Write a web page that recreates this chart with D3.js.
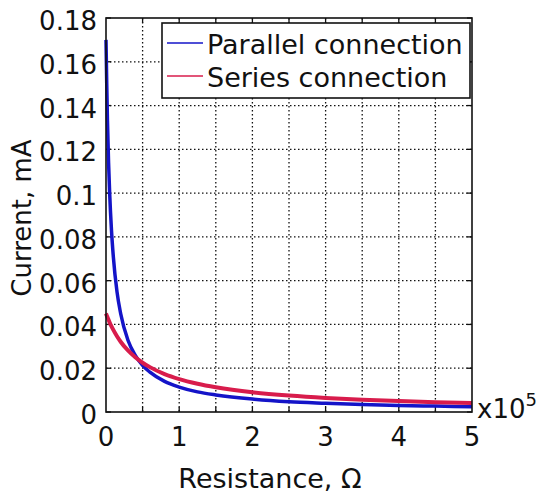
<!DOCTYPE html>
<html>
<head>
<meta charset="utf-8">
<script src="https://cdn.jsdelivr.net/npm/d3@7"></script>
<style>
  body { margin: 0; background: #fff; }
  text { font-family: "DejaVu Sans", Verdana, sans-serif; fill: #111; }
</style>
</head>
<body>
<div id="chart"></div>
<script>
// resistance in units of 1e5 ohm
const resistance = [0, 0.01, 0.02, 0.035, 0.05, 0.075, 0.1, 0.15, 0.2, 0.3, 0.4, 0.5, 0.6, 0.8, 1, 1.25, 1.5, 2, 2.5, 3, 3.5, 4, 4.5, 5];
// current, mA
const parallelCurrent = [0.170, 0.150, 0.133, 0.114, 0.100, 0.083, 0.071, 0.055, 0.045, 0.0328, 0.0259, 0.0213, 0.0182, 0.0140, 0.0114, 0.0092, 0.0078, 0.0059, 0.0047, 0.0040, 0.0034, 0.0030, 0.0027, 0.0024];
const seriesCurrent = [0.045, 0.0441, 0.0433, 0.0421, 0.0409, 0.0391, 0.0375, 0.0346, 0.0321, 0.0281, 0.0250, 0.0225, 0.0205, 0.0173, 0.0150, 0.0129, 0.0113, 0.0090, 0.0075, 0.0064, 0.0056, 0.0050, 0.0045, 0.0041];
const xTicks = [0, 1, 2, 3, 4, 5];
const xGrid = [0.5, 1, 1.5, 2, 2.5, 3, 3.5, 4, 4.5];
const yTicks = [0, 0.02, 0.04, 0.06, 0.08, 0.1, 0.12, 0.14, 0.16, 0.18];
const yTickLabels = ["0", "0.02", "0.04", "0.06", "0.08", "0.1", "0.12", "0.14", "0.16", "0.18"];
const seriesNames = ["Parallel connection", "Series connection"];
const seriesColors = ["#1414c8", "#d81c4c"];

const width = 539, height = 493;
const margin = {top: 18, right: 67, bottom: 81, left: 106};
const w = width - margin.left - margin.right;
const h = height - margin.top - margin.bottom;

const svg = d3.select("#chart").append("svg")
    .attr("width", width)
    .attr("height", height);

const g = svg.append("g")
    .attr("transform", `translate(${margin.left},${margin.top})`);

const x = d3.scaleLinear().domain([0, 5]).range([0, w]);
const y = d3.scaleLinear().domain([0, 0.18]).range([h, 0]);

// dotted grid
g.selectAll(".vgrid").data(xGrid).enter().append("line")
    .attr("x1", d => x(d)).attr("x2", d => x(d))
    .attr("y1", 0).attr("y2", h)
    .style("stroke", "#111").style("stroke-width", 1.3)
    .style("stroke-dasharray", "1.5,2.5");

g.selectAll(".hgrid").data(yTicks.slice(1, -1)).enter().append("line")
    .attr("x1", 0).attr("x2", w)
    .attr("y1", d => y(d)).attr("y2", d => y(d))
    .style("stroke", "#111").style("stroke-width", 1.3)
    .style("stroke-dasharray", "1.5,2.5");

// inward ticks on all sides
const tickLen = 5;
xGrid.forEach(d => {
    g.append("line").attr("x1", x(d)).attr("x2", x(d)).attr("y1", h).attr("y2", h - tickLen)
        .style("stroke", "#111").style("stroke-width", 1.3);
    g.append("line").attr("x1", x(d)).attr("x2", x(d)).attr("y1", 0).attr("y2", tickLen)
        .style("stroke", "#111").style("stroke-width", 1.3);
});
yTicks.forEach(d => {
    g.append("line").attr("x1", 0).attr("x2", tickLen).attr("y1", y(d)).attr("y2", y(d))
        .style("stroke", "#111").style("stroke-width", 1.3);
    g.append("line").attr("x1", w).attr("x2", w - tickLen).attr("y1", y(d)).attr("y2", y(d))
        .style("stroke", "#111").style("stroke-width", 1.3);
});

// curves
const line = d3.line()
    .x((d, i) => x(resistance[i]))
    .y(d => y(d))
    .curve(d3.curveMonotoneX);

[parallelCurrent, seriesCurrent].forEach((vals, k) => {
    g.append("path")
        .datum(vals)
        .attr("d", line)
        .style("fill", "none")
        .style("stroke", seriesColors[k])
        .style("stroke-width", k === 0 ? 3.5 : 4)
        .style("stroke-linejoin", "round");
});

// frame
g.append("rect")
    .attr("width", w).attr("height", h)
    .style("fill", "none").style("stroke", "#111").style("stroke-width", 1.6);

// tick labels
g.selectAll(".ylab").data(yTicks).enter().append("text")
    .attr("x", -9)
    .attr("y", d => y(d) + 12)
    .attr("text-anchor", "end")
    .style("font-size", "26px")
    .text((d, i) => yTickLabels[i]);

g.selectAll(".xlab").data(xTicks).enter().append("text")
    .attr("x", d => x(d))
    .attr("y", h + 34)
    .attr("text-anchor", "middle")
    .style("font-size", "26px")
    .text(d => d);

// x10^5 multiplier
const mult = svg.append("text")
    .attr("x", margin.left + w + 5)
    .attr("y", margin.top + h + 6)
    .style("font-size", "26px");
mult.append("tspan").text("x10");
mult.append("tspan").attr("dy", -12).style("font-size", "18px").text("5");

// axis titles
svg.append("text")
    .attr("x", 270)
    .attr("y", 488)
    .attr("text-anchor", "middle")
    .style("font-size", "27px")
    .text("Resistance, Ω");

svg.append("text")
    .attr("transform", "translate(31,218) rotate(-90)")
    .attr("text-anchor", "middle")
    .style("font-size", "26px")
    .text("Current, mA");

// legend
const legend = svg.append("g");
legend.append("rect")
    .attr("x", 162).attr("y", 23)
    .attr("width", 308).attr("height", 75)
    .style("fill", "#fff").style("stroke", "#111").style("stroke-width", 1.6);

seriesNames.forEach((name, i) => {
    const ly = 43 + i * 33;
    legend.append("line")
        .attr("x1", 167).attr("x2", 203)
        .attr("y1", ly).attr("y2", ly)
        .style("stroke", seriesColors[i]).style("stroke-width", 1.6);
    legend.append("text")
        .attr("x", 207).attr("y", ly + 11)
        .style("font-size", "27px")
        .text(name);
});
</script>
</body>
</html>
